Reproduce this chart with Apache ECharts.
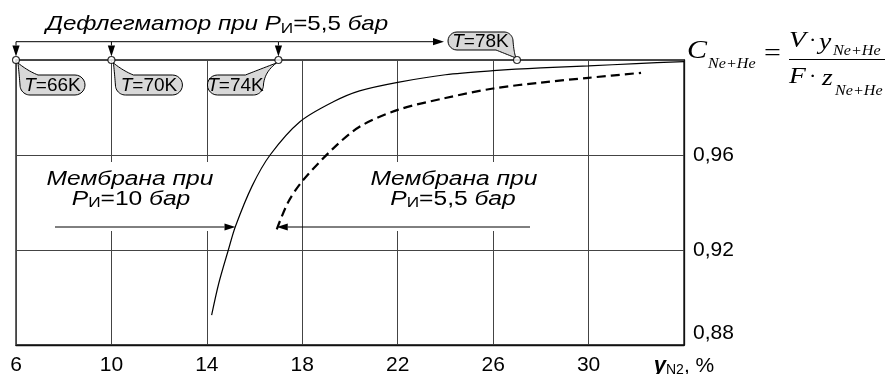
<!DOCTYPE html>
<html><head><meta charset="utf-8">
<script src="https://cdn.jsdelivr.net/npm/echarts@6/dist/echarts.min.js"></script>
<style>html,body{margin:0;padding:0;background:#fff}#c{width:893px;height:374px}</style>
</head><body><div id="c"></div>
<script>
// ---- data ----
const xTicks = [6, 10, 14, 18, 22, 26, 30, 34];
const yTicks = [0.88, 0.92, 0.96, 1.00];
const solidX = [14.2, 14.5, 14.9, 15.2, 15.9, 16.65, 17.9, 19.3, 20.4, 22.0, 24.0, 26.0, 28.0, 30.0, 32.0, 34.0];
const solidY = [0.8926, 0.906, 0.920, 0.930, 0.947, 0.960, 0.974, 0.9824, 0.987, 0.9906, 0.9938, 0.9955, 0.9967, 0.9975, 0.9985, 0.9993];
const dashX = [16.93, 17.4, 18.0, 19.3, 20.4, 22.0, 24.0, 26.0, 28.0, 30.0, 32.2];
const dashY = [0.9287, 0.940, 0.949, 0.9628, 0.9719, 0.979, 0.984, 0.988, 0.9905, 0.9925, 0.9946];
const tempX = [6, 10, 17, 27];
const tempY = [1.0, 1.0, 1.0, 1.0];
const tempLabels = ['66', '70', '74', '78'];

const SANS = 'Liberation Sans, Arial, sans-serif';
const SERIF = 'Liberation Serif, Times New Roman, serif';
const chart = echarts.init(document.getElementById('c'), null, {renderer: 'canvas'});

const zip = (a, b) => a.map((v, i) => [v, b[i]]);

chart.setOption({
  animation: false,
  backgroundColor: '#fff',
  grid: {left: 16, right: 209, top: 60, bottom: 29, show: true, borderColor: '#111', borderWidth: 1.3,
         containLabel: false, outerBoundsMode: 'none'},
  xAxis: {
    type: 'value', min: xTicks[0], max: xTicks[xTicks.length - 1], interval: 4,
    axisLine: {show: true, lineStyle: {color: '#111', width: 1.3}},
    axisTick: {show: false},
    splitLine: {show: true, lineStyle: {color: '#444', width: 1}},
    axisLabel: {
      margin: 10, color: '#000', fontFamily: SANS, fontSize: 21, showMinLabel: true, showMaxLabel: true,
      formatter: v => (v === xTicks[xTicks.length - 1] ? '{y|y}{s|N2}{n|, %}' : String(v)),
      rich: {
        y: {fontFamily: SANS, fontSize: 22, fontWeight: 'bold', fontStyle: 'italic', color: '#000'},
        s: {fontFamily: SANS, fontSize: 14, color: '#000', padding: [8, 0, 0, 0]},
        n: {fontFamily: SANS, fontSize: 21, color: '#000'}
      }
    }
  },
  yAxis: {
    type: 'value', position: 'right', min: yTicks[0], max: yTicks[yTicks.length - 1], interval: 0.04,
    axisLine: {show: true, lineStyle: {color: '#111', width: 1.3}},
    axisTick: {show: false},
    splitLine: {show: true, lineStyle: {color: '#444', width: 1}},
    axisLabel: {
      margin: 9, color: '#000', fontFamily: SANS, fontSize: 21, showMinLabel: true, showMaxLabel: true,
      formatter: v => {
        if (Math.abs(v - yTicks[yTicks.length - 1]) < 1e-6) return '';
        const s = v.toFixed(2).replace('.', ',');
        return Math.abs(v - yTicks[0]) < 1e-6 ? '{lo|' + s + '}' : s;
      },
      rich: {lo: {fontFamily: SANS, fontSize: 21, color: '#000', padding: [0, 0, 24, 0]}}
    }
  },
  series: [
    {type: 'line', data: zip(solidX, solidY), smooth: 0.3, showSymbol: false,
     lineStyle: {color: '#000', width: 1.2}, z: 3},
    {type: 'line', data: zip(dashX, dashY), smooth: 0.3, showSymbol: false,
     lineStyle: {color: '#000', width: 2.2, type: [9, 5]}, z: 3},
    {type: 'scatter', data: zip(tempX, tempY), symbol: 'circle', symbolSize: 7, clip: false,
     itemStyle: {color: '#fff', borderColor: '#000', borderWidth: 1.1}, z: 10}
  ]
});

// ---- annotations ----
const P = (x, y) => chart.convertToPixel({gridIndex: 0}, [x, y]);
const g = [];
function arrow(x1, y1, x2, y2) {
  const dx = x2 - x1, dy = y2 - y1, L = Math.hypot(dx, dy), ux = dx / L, uy = dy / L;
  const hl = 11, hw = 3.6;
  const bx = x2 - ux * hl, by = y2 - uy * hl;
  g.push({type: 'line', z: 6, shape: {x1, y1, x2: bx, y2: by}, style: {stroke: '#000', lineWidth: 1}});
  g.push({type: 'polygon', z: 6, shape: {points: [[x2, y2], [bx - uy * hw, by + ux * hw], [bx + uy * hw, by - ux * hw]]}, style: {fill: '#000'}});
}
function arcPts(pts, cx, cy, r, a0, a1) {
  const n = 12;
  for (let k = 0; k <= n; k++) {
    const t = (a0 + (a1 - a0) * k / n) * Math.PI / 180;
    pts.push([cx + r * Math.cos(t), cy + r * Math.sin(t)]);
  }
}
function quadPts(pts, p0, c, p1) {
  const n = 12;
  for (let k = 1; k <= n; k++) {
    const t = k / n, u = 1 - t;
    pts.push([u * u * p0[0] + 2 * u * t * c[0] + t * t * p1[0], u * u * p0[1] + 2 * u * t * c[1] + t * t * p1[1]]);
  }
}
function bubble(x0, y0, x1, y1, tx, ty, corner, label) {
  const r = (y1 - y0) / 2, ym = (y0 + y1) / 2, a = 8;
  const pts = [];
  if (corner === 'tl') {
    pts.push([x0 + r + a, y0]);
    arcPts(pts, x1 - r, ym, r, -90, 90);
    arcPts(pts, x0 + r, ym, r, 90, 180);
    quadPts(pts, [x0, ym], [x0 - 1, y0 - 3], [tx, ty]);
    quadPts(pts, [tx, ty], [x0 + r - 2, y0 - 4], [x0 + r + a, y0]);
  } else if (corner === 'tr') {
    pts.push([x0 + r, y0]);
    pts.push([x1 - r - a, y0]);
    quadPts(pts, [x1 - r - a, y0], [x1 - r + 2, y0 - 4], [tx, ty]);
    quadPts(pts, [tx, ty], [x1 + 1, y0 - 3], [x1, ym]);
    arcPts(pts, x1 - r, ym, r, 0, 90);
    arcPts(pts, x0 + r, ym, r, 90, 270);
  } else {
    arcPts(pts, x1 - r, ym, r, -90, 0);
    quadPts(pts, [x1, ym], [x1 + 1, y1 + 3], [tx, ty]);
    quadPts(pts, [tx, ty], [x1 - r + 2, y1 + 4], [x1 - r - a, y1]);
    arcPts(pts, x0 + r, ym, r, 90, 270);
  }
  g.push({type: 'polygon', z: 5, shape: {points: pts}, style: {fill: '#d8d8d8', stroke: '#000', lineWidth: 1}});
  g.push({type: 'text', z: 7, x: (x0 + x1) / 2, y: ym + 1, style: {
    text: '{i|T}{n|=' + label + 'K}', align: 'center', verticalAlign: 'middle',
    rich: {i: {fontFamily: SANS, fontSize: 19, fontStyle: 'italic', fill: '#000'}, n: {fontFamily: SANS, fontSize: 19, fill: '#000'}}
  }});
}

const topY = P(6, 1)[1];
const arrowY = topY - 18.3;
const c = tempX.map((x, i) => P(x, tempY[i]));
g.push({type: 'line', z: 6, shape: {x1: c[0][0], y1: arrowY, x2: c[2][0], y2: arrowY}, style: {stroke: '#000', lineWidth: 1}});
arrow(c[2][0], arrowY, c[3][0] - 73, arrowY);
for (let i = 0; i < 3; i++) arrow(c[i][0], arrowY, c[i][0], c[i][1] - 3.5);
bubble(c[0][0] + 4, topY + 15, c[0][0] + 69, topY + 35, c[0][0] + 2, c[0][1] + 3, 'tl', tempLabels[0]);
bubble(c[1][0] + 4, topY + 15, c[1][0] + 71, topY + 35, c[1][0] + 2, c[1][1] + 3, 'tl', tempLabels[1]);
bubble(c[2][0] - 71, topY + 15, c[2][0] - 15, topY + 35, c[2][0] - 2, c[2][1] + 3, 'tr', tempLabels[2]);
bubble(c[3][0] - 69, topY - 28, c[3][0] - 4, topY - 10, c[3][0] - 1, c[3][1] - 2, 'br', tempLabels[3]);

const mkRich = (sz) => ({
  i: {fontFamily: SANS, fontSize: sz, fontStyle: 'italic', fill: '#000'},
  n: {fontFamily: SANS, fontSize: sz, fill: '#000'},
  s: {fontFamily: SANS, fontSize: Math.round(sz * 0.7), fill: '#000', padding: [Math.round(sz * 0.42), 0, 0, 0]}
});
const richTitle = mkRich(21), richMem = mkRich(20);
g.push({type: 'text', z: 7, x: 46, y: 24, scaleX: 1.15, style: {text: '{i|Дефлегматор при P}{s|И}{n|=5,5 }{i|бар}', verticalAlign: 'middle', rich: richTitle}});

g.push({type: 'rect', z: 1, shape: {x: 40, y: 162, width: 176, height: 69}, style: {fill: '#fff'}});
g.push({type: 'rect', z: 1, shape: {x: 362, y: 162, width: 178, height: 69}, style: {fill: '#fff'}});
g.push({type: 'text', z: 7, x: 130, y: 179, scaleX: 1.23, style: {text: '{i|Мембрана при}', align: 'center', verticalAlign: 'middle', rich: richMem}});
g.push({type: 'text', z: 7, x: 131, y: 199, scaleX: 1.23, style: {text: '{i|P}{s|И}{n|=10 }{i|бар}', align: 'center', verticalAlign: 'middle', rich: richMem}});
g.push({type: 'text', z: 7, x: 454, y: 179, scaleX: 1.23, style: {text: '{i|Мембрана при}', align: 'center', verticalAlign: 'middle', rich: richMem}});
g.push({type: 'text', z: 7, x: 453, y: 199, scaleX: 1.23, style: {text: '{i|P}{s|И}{n|=5,5 }{i|бар}', align: 'center', verticalAlign: 'middle', rich: richMem}});
const tipL = P(solidX[3], solidY[3]);
const tipR = P(dashX[0], dashY[0]);
arrow(55, 227, tipL[0], 227);
arrow(530, 227, tipR[0], 227);

// formula C = V*y / F*z
const fi = (t, x, y, size, sx, extra) => g.push({type: 'text', z: 7, x, y, scaleX: sx, style: Object.assign({text: t, fontFamily: SERIF, fontSize: size, fontStyle: 'italic', fill: '#000', verticalAlign: 'middle'}, extra || {})});
fi('C', 687, 51, 25, 1.2);
fi('Ne+He', 708, 64, 14, 1.15);
fi('=', 764, 54, 26, 1.15, {fontStyle: 'normal'});
g.push({type: 'line', z: 7, shape: {x1: 789, y1: 59.5, x2: 885, y2: 59.5}, style: {stroke: '#000', lineWidth: 1}});
fi('V', 789, 41, 24, 1.15);
fi('·', 809, 41, 22, 1, {fontStyle: 'normal'});
fi('y', 819, 43, 24, 1.15);
fi('Ne+He', 833, 51, 14, 1.15);
fi('F', 789, 77, 24, 1.15);
fi('·', 809, 77, 22, 1, {fontStyle: 'normal'});
fi('z', 822, 79, 24, 1.15);
fi('Ne+He', 835, 91, 14, 1.15);

chart.setOption({graphic: {elements: g}});
</script></body></html>
